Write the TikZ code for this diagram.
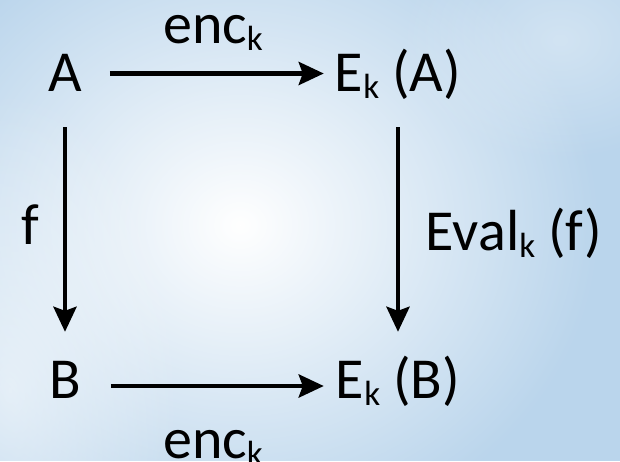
\documentclass[tikz,border=0pt]{standalone}
\usepackage{fontspec}
\setmainfont{Carlito}
\usetikzlibrary{arrows.meta,fadings}
\definecolor{sky}{RGB}{186,213,236}
\tikzfading[name=cloudfade, inner color=transparent!0, outer color=transparent!100]
\newcommand{\sbk}{\raisebox{-7pt}{\fontsize{35}{35}\selectfont k}}
\begin{document}
\begin{tikzpicture}[x=1pt,y=-1pt,
  lbl/.style={inner sep=0pt, font=\fontsize{58}{60}\selectfont, text=black},
  toprow/.style={lbl, text height=42pt, text depth=7pt},
  botrow/.style={lbl, text height=36pt, text depth=12pt},
  arr/.style={line width=4.5pt, -{Stealth[length=25pt,width=23pt,inset=4pt]}}]
\useasboundingbox (0,0) rectangle (620,461);
% background sky
\fill[sky] (0,0) rectangle (620,461);
\fill[white, path fading=cloudfade] (240,225) ellipse (360 and 320);
\fill[white, opacity=0.55, path fading=cloudfade] (10,390) ellipse (170 and 300);
\fill[white, opacity=0.35, path fading=cloudfade] (560,40) ellipse (160 and 120);
% nodes
\node[toprow, anchor=base] (A)  at (65,91)  {A};
\node[toprow, anchor=base] (EA) at (398,91) {E\sbk{} (A)};
\node[botrow, anchor=base] (B)  at (65,398) {B};
\node[botrow, anchor=base] (EB) at (398,398) {E\sbk{} (B)};
\node[lbl, anchor=base] (enc1) at (213,43)  {enc\sbk};
\node[lbl, anchor=base] (enc2) at (213,458) {enc\sbk};
\node[lbl, anchor=base] (f)    at (30,244)  {f};
\node[lbl, anchor=base] (ev)   at (514,250) {Eval\sbk{} (f)};
% arrows
\draw[arr, shorten <=28pt, shorten >=11pt] (A) -- (EA);
\draw[arr, shorten <=30pt, shorten >=12pt] (B) -- (EB);
\draw[arr, shorten <=29pt, shorten >=30pt] (A) -- (B);
\draw[arr, shorten <=29pt, shorten >=30pt] (EA) -- (EB);
\end{tikzpicture}
\end{document}
